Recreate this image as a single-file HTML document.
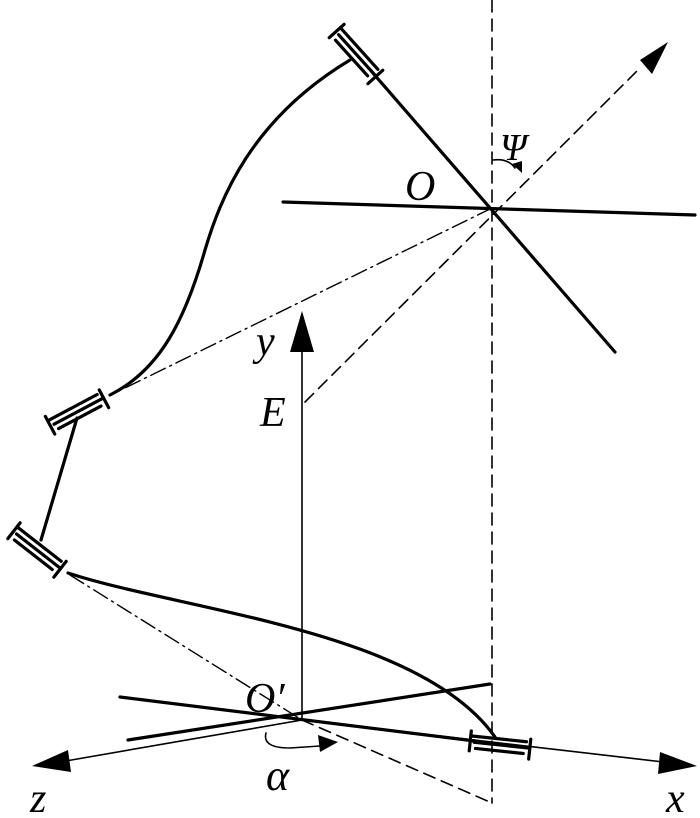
<!DOCTYPE html>
<html><head><style>body{margin:0;background:#fff}svg{display:block}text{font-family:"Liberation Serif",serif;font-style:italic;fill:#000}</style></head>
<body>
<svg width="700" height="818" viewBox="0 0 700 818" xmlns="http://www.w3.org/2000/svg">
<defs>
<g id="b" stroke="#000" stroke-width="3.2" stroke-linecap="round" fill="none">
<line x1="-30" y1="-6" x2="26" y2="-6"/>
<line x1="-26" y1="0" x2="30" y2="0"/>
<line x1="-24" y1="6" x2="24" y2="6"/>
<line x1="-30" y1="-11" x2="-30" y2="9"/>
<line x1="30" y1="-9" x2="30" y2="11"/>
</g>
</defs>
<g stroke="#000" fill="none" stroke-linecap="round">
<g stroke-width="1.6" stroke-dasharray="12,7">
<line x1="492" y1="0" x2="492" y2="803"/>
<line x1="302" y1="720" x2="492" y2="803"/>
<line x1="305" y1="402" x2="640" y2="68"/>
</g>
<g stroke-width="1.4" stroke-dasharray="16,5,2,5">
<line x1="492" y1="208" x2="125" y2="388"/>
<line x1="70" y1="575" x2="302" y2="720"/>
</g>
<g stroke-width="1.6">
<line x1="302" y1="720" x2="302" y2="340"/>
<line x1="302" y1="720" x2="672" y2="763"/>
<line x1="302" y1="720" x2="60" y2="762"/>
</g>
<g stroke-width="3.2">
<line x1="120" y1="697" x2="475" y2="741"/>
<line x1="128" y1="740" x2="490" y2="684"/>
<line x1="283" y1="202" x2="695" y2="215"/>
<line x1="372" y1="72" x2="615" y2="352"/>
<path d="M350 60 C 250 120, 220 200, 205 250 C 185 320, 160 370, 110 395"/>
<line x1="77" y1="418" x2="41" y2="540"/>
<path d="M68 573 C 180 610, 420 630, 495 737"/>
</g>
<path d="M493 160 Q 508 158 515 168" stroke-width="1.6"/>
<path d="M266 733 Q 262 748 290 748 L 320 746" stroke-width="1.6"/>
</g>
<use href="#b" transform="translate(77,412) rotate(-28)"/>
<use href="#b" transform="translate(37,550) rotate(38)"/>
<use href="#b" transform="translate(356,54) rotate(48)"/>
<use href="#b" transform="translate(500,745) rotate(6)"/>
<g fill="#000">
<polygon points="302,311 290,352 314,352"/>
<polygon points="668,42 640,60 652,74"/>
<polygon points="697,766 660,752 658,774"/>
<polygon points="32,766 68,750 71,772"/>
<polygon points="338,742 318,735 320,752"/>
<polygon points="522,173 512,164 522,161"/>
</g>
<text x="405" y="200" font-size="42">O</text>
<text x="500" y="160" font-size="38">Ψ</text>
<text x="256" y="355" font-size="42">y</text>
<text x="260" y="426" font-size="42">E</text>
<text x="245" y="712" font-size="42">O′</text>
<text x="266" y="790" font-size="44">α</text>
<text x="30" y="812" font-size="42">z</text>
<text x="666" y="812" font-size="42">x</text>
</svg>
</body></html>
